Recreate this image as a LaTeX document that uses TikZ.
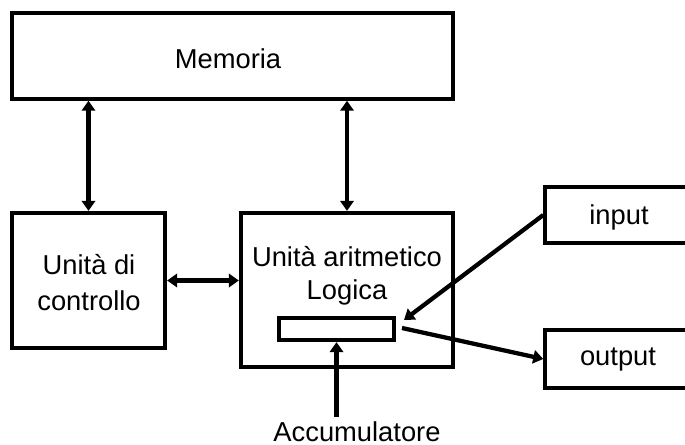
\documentclass[tikz,border=0pt]{standalone}
\usepackage{fontspec}
\setmainfont{Liberation Sans}
\usetikzlibrary{arrows.meta}
\begin{document}
\begin{tikzpicture}[x=0.75pt,y=-0.75pt,
  txt/.style={font=\fontsize{20.5}{25}\selectfont, inner sep=0pt, align=center},
  thinbox/.style={draw, line width=2.6pt, inner sep=0pt},
  thickbox/.style={draw, line width=3.2pt, inner sep=0pt},
  conn/.style={line width=3.2pt, {Triangle[length=7.5pt,width=10pt]}-{Triangle[length=7.5pt,width=10pt]}},
  oneway/.style={line width=3.2pt, -{Triangle[length=7.5pt,width=10pt]}}
]
\useasboundingbox (0,0) rectangle (685,445);
\clip (0,0) rectangle (685,445);
% boxes
\node[thinbox, minimum width=330.75pt, minimum height=64.5pt] (mem) at (232.5,56) {};
\node[txt] (memtxt) at (228,59) {Memoria};
\node[thickbox, minimum width=114.75pt, minimum height=101.25pt] (ctrl) at (88.5,280.5) {};
\node[txt] (ctrltxt) at (89,283) {Unità di\\[2pt]controllo};
\node[thickbox, minimum width=159pt, minimum height=115.5pt] (alu) at (347,290) {};
\node[txt] (alutxt) at (347,276) {Unità aritmetico\\[0pt]Logica};
\node[thickbox, minimum width=86.25pt, minimum height=16.5pt] (acc) at (336.5,329) {};
\node[thinbox, minimum width=112.5pt, minimum height=42pt] (in) at (620,215) {};
\node[txt] (intxt) at (619,217) {input};
\node[thinbox, minimum width=112.5pt, minimum height=43.5pt] (out) at (620,359) {};
\node[txt] (outtxt) at (618,360) {output};
\node[txt, anchor=base] (acclabel) at (357,441) {Accumulatore};
% free ends
\coordinate (inend) at (404,320);
\coordinate (outstart) at (402,328);
% connectors
\draw[conn] (mem.south -| ctrl.north) -- (ctrl.north);
\draw[conn] (mem.south -| alu.north) -- (alu.north);
\draw[conn] (ctrl.east) -- (ctrl.east -| alu.west);
\draw[oneway] (acc.south |- 0,417) -- (acc.south);
\draw[oneway] (in.west) -- (inend);
\draw[oneway] (outstart) -- (out.west);
\end{tikzpicture}
\end{document}
